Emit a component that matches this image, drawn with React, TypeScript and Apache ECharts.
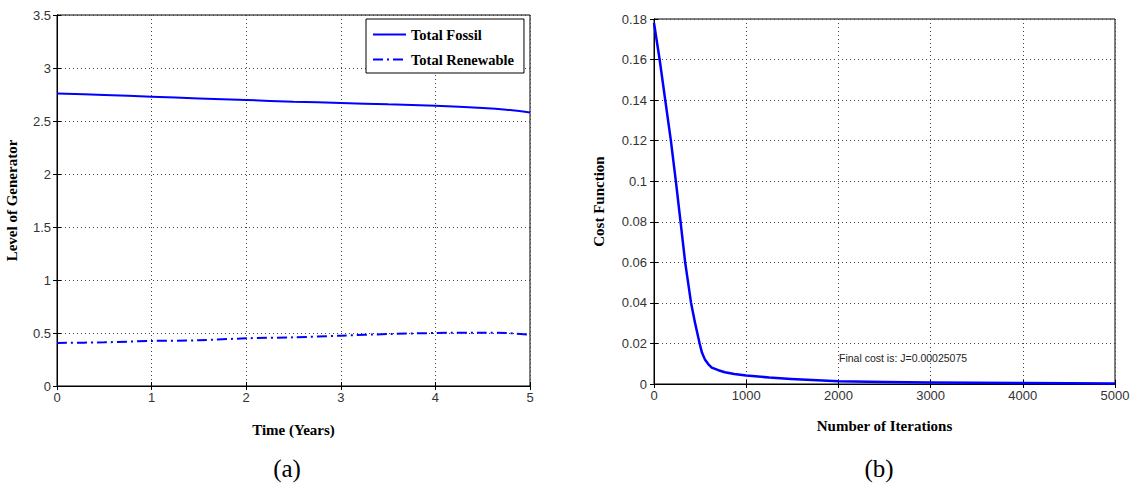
import React, { useEffect, useRef } from "react";
import * as echarts from "echarts";

// (a) Level of generator vs time
const timeYears = [0, 0.5, 1, 1.5, 2, 2.5, 3, 3.5, 4, 4.5, 4.75, 5];
const totalFossil = [2.76, 2.745, 2.729, 2.713, 2.698, 2.682, 2.67, 2.657, 2.644, 2.623, 2.607, 2.581];
const totalRenewable = [0.406, 0.412, 0.425, 0.431, 0.45, 0.459, 0.475, 0.49, 0.5, 0.503, 0.5, 0.484];

// (b) Cost function vs iterations
const iterations = [0, 61, 122, 183, 237, 288, 338, 402, 446, 495, 520, 554, 590, 626, 698, 769, 870, 1000, 1250, 1486, 2000, 2500, 3000, 4000, 5000];
const costValues = [0.178, 0.16, 0.14, 0.12, 0.1, 0.08, 0.06, 0.04, 0.03, 0.02, 0.0155, 0.0119, 0.0097, 0.0081, 0.0068, 0.0058, 0.0049, 0.0042, 0.0032, 0.0025, 0.0014, 0.001, 0.0008, 0.0005, 0.00025];

const finalCostText = "Final cost is: J=0.00025075";
const captionA = "(a)";
const captionB = "(b)";

const BLUE = "#0000ff";
const SANS = "Liberation Sans, Arial, sans-serif";
const SERIF = "Liberation Serif, Times New Roman, serif";

function axisCommon() {
  return {
    axisLine: { show: true, lineStyle: { color: "#000", width: 1 } },
    axisTick: { show: true, inside: true, length: 4, lineStyle: { color: "#000" } },
    axisLabel: { color: "#333", fontFamily: SANS, fontSize: 13, formatter: (v: number) => String(Math.round(v * 1000) / 1000) },
    splitLine: { show: true, lineStyle: { color: "#444", type: [1, 3], width: 1 } },
    nameTextStyle: { color: "#000", fontFamily: SERIF, fontWeight: "bold", fontSize: 15 },
  };
}

function mirror(extra: any) {
  return {
    type: "value",
    axisLine: { show: true, lineStyle: { color: "#000", width: 1 } },
    axisTick: { show: true, inside: true, length: 4, lineStyle: { color: "#000" } },
    axisLabel: { show: false },
    splitLine: { show: false },
    ...extra,
  };
}

export default function App() {
  const ref = useRef<HTMLDivElement>(null);
  useEffect(() => {
    if (!ref.current) return;
    const chart = echarts.init(ref.current, null, { renderer: "svg" });
    const c = axisCommon();
    chart.setOption({
      animation: false,
      backgroundColor: "#fff",
      grid: [
        { left: 57, top: 15, width: 473, height: 371, show: true, borderColor: "#000", borderWidth: 1, backgroundColor: "transparent" },
        { left: 654, top: 19, width: 461, height: 365, show: true, borderColor: "#000", borderWidth: 1, backgroundColor: "transparent" },
      ],
      xAxis: [
        {
          ...c, type: "value", gridIndex: 0, min: 0, max: 5, interval: 1,
          name: "Time (Years)", nameLocation: "middle", nameGap: 36,
          axisLabel: { ...c.axisLabel, margin: 5 },
        },
        {
          ...c, type: "value", gridIndex: 1, min: 0, max: 5000, interval: 1000,
          name: "Number of Iterations", nameLocation: "middle", nameGap: 34,
          axisLabel: { ...c.axisLabel, margin: 5 },
        },
        mirror({ gridIndex: 0, position: "top", min: 0, max: 5, interval: 1 }),
        mirror({ gridIndex: 1, position: "top", min: 0, max: 5000, interval: 1000 }),
      ],
      yAxis: [
        {
          ...c, type: "value", gridIndex: 0, min: 0, max: 3.5, interval: 0.5,
          name: "Level of Generator", nameLocation: "middle", nameGap: 38,
          axisLabel: { ...c.axisLabel, margin: 6 },
        },
        {
          ...c, type: "value", gridIndex: 1, min: 0, max: 0.18, interval: 0.02,
          name: "Cost Function", nameLocation: "middle", nameGap: 48,
          axisLabel: { ...c.axisLabel, margin: 7 },
        },
        mirror({ gridIndex: 0, position: "right", min: 0, max: 3.5, interval: 0.5 }),
        mirror({ gridIndex: 1, position: "right", min: 0, max: 0.18, interval: 0.02 }),
      ],
      legend: {
        data: ["Total Fossil", "Total Renewable"],
        left: 366,
        top: 19,
        orient: "vertical",
        backgroundColor: "#fff",
        borderColor: "#000",
        borderWidth: 1,
        borderRadius: 0,
        padding: [8, 10, 6, 6],
        itemWidth: 33,
        itemHeight: 14,
        itemGap: 10,
        itemStyle: { opacity: 0 },
        textStyle: { fontFamily: SERIF, fontWeight: "bold", fontSize: 14.5, color: "#000" },
        z: 10,
      },
      series: [
        {
          name: "Total Fossil", type: "line", xAxisIndex: 0, yAxisIndex: 0,
          data: timeYears.map((t, i) => [t, totalFossil[i]]),
          symbol: "none", smooth: 0.3, color: BLUE,
          lineStyle: { color: BLUE, width: 2 }, z: 5,
        },
        {
          name: "Total Renewable", type: "line", xAxisIndex: 0, yAxisIndex: 0,
          data: timeYears.map((t, i) => [t, totalRenewable[i]]),
          symbol: "none", smooth: 0.3, color: BLUE,
          lineStyle: { color: BLUE, width: 2, type: [10, 4, 2, 4] }, z: 5,
        },
        {
          name: "Cost", type: "line", xAxisIndex: 1, yAxisIndex: 1,
          data: iterations.map((t, i) => [t, costValues[i]]),
          symbol: "none", smooth: false, color: BLUE,
          lineStyle: { color: BLUE, width: 2.5, join: "round" }, z: 5,
        },
      ],
      graphic: [
        {
          type: "text", left: 839, top: 352,
          style: { text: finalCostText, font: `10.5px ${SANS}`, fill: "#222" },
        },
        {
          type: "text", x: 287, y: 468,
          style: { text: captionA, font: `25px ${SERIF}`, fill: "#000", align: "center", verticalAlign: "middle" },
        },
        {
          type: "text", x: 879, y: 468,
          style: { text: captionB, font: `25px ${SERIF}`, fill: "#000", align: "center", verticalAlign: "middle" },
        },
      ],
    });
    return () => chart.dispose();
  }, []);
  return (
    <div
      ref={ref}
      style={{ position: "absolute", left: 0, top: 0, width: 1135, height: 492, background: "#fff" }}
    />
  );
}
